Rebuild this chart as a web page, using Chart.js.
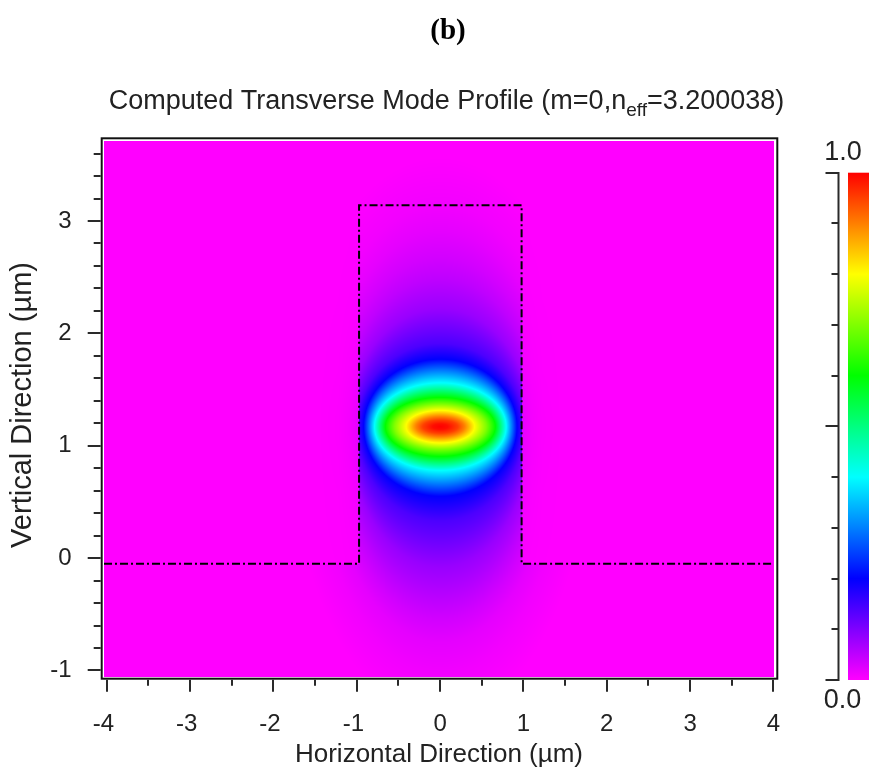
<!DOCTYPE html>
<html>
<head>
<meta charset="utf-8">
<title>Computed Transverse Mode Profile</title>
<style>
  html, body { margin: 0; padding: 0; background: #fff; }
  #wrap { position: relative; width: 869px; height: 774px; }
  canvas { display: block; }
</style>
<script src="https://cdn.jsdelivr.net/npm/chart.js@4.4.1/dist/chart.umd.min.js"></script>
</head>
<body>
<div id="wrap"><canvas id="mode" width="869" height="774"></canvas></div>
<script>
// ---- mode intensity, described by its contour levels ----
// For every level: half-width and half-heights (above / below the peak) of its contour, µm.
const modeCenter = [0.003, 1.17];
const levels   = [1, 0.99, 0.95, 0.9, 0.8, 0.7, 0.6, 0.4, 0.2, 0.14, 0.12, 0.08, 0.05, 0.035, 0.02, 0.01, 0];
const halfW    = [0, 0.09, 0.21, 0.29, 0.41, 0.55, 0.66, 0.79, 0.92, 1.0, 1.03, 1.1, 1.2, 1.28, 1.38, 1.5, 1.8];
const halfUp   = [0, 0.025, 0.06, 0.09, 0.145, 0.2, 0.26, 0.39, 0.6, 0.74, 0.84, 1.05, 1.32, 1.5, 1.74, 1.97, 2.4];
const halfDown = [0, 0.025, 0.06, 0.09, 0.145, 0.2, 0.265, 0.39, 0.62, 0.84, 0.98, 1.25, 1.56, 1.72, 1.92, 2.2, 2.6];
// Beside the ridge (in air) the intensity drops by this factor vs. distance from the wall, µm
const gapDist   = [0, 0.04, 0.12, 0.25, 0.5];
const gapFactor = [0.15, 0.1, 0.05, 0.015, 0];

// Ridge waveguide outline (µm)
const ridgeLeft = -0.972, ridgeRight = 0.978, ridgeTop = 3.14, slabTop = -0.05;
const outlineX = [-4.032, ridgeLeft, ridgeLeft, ridgeRight, ridgeRight, 4.006];
const outlineY = [slabTop, slabTop, ridgeTop, ridgeTop, slabTop, slabTop];

// Axis ranges and tick positions
const xRange = [-4.032, 4.006];
const yRange = [-1.058, 3.712];
const xTicks = [-4, -3.5, -3, -2.5, -2, -1.5, -1, -0.5, 0, 0.5, 1, 1.5, 2, 2.5, 3, 3.5, 4];
const yTicks = [-1, -0.8, -0.6, -0.4, -0.2, 0, 0.2, 0.4, 0.6, 0.8, 1, 1.2, 1.4, 1.6, 1.8, 2,
                2.2, 2.4, 2.6, 2.8, 3, 3.2, 3.4, 3.6];
const cbarTicks  = [0, 0.1, 0.2, 0.3, 0.4, 0.5, 0.6, 0.7, 0.8, 0.9, 1.0];
const cbarLabels = ['0.0', '1.0'];

const FONT = '"Liberation Sans", Arial, Helvetica, sans-serif';
const INK = '#222';

// Hue colour scale: 0 → magenta, 0.2 blue, 0.4 cyan, 0.6 green, 0.8 yellow, 1 → red
function cmap(v) {
  v = Math.max(0, Math.min(1, v));
  const h = (1 - v) * 5, i = Math.floor(h), f = h - i;
  let r, g, b;
  switch (i) {
    case 0: r = 1; g = f; b = 0; break;
    case 1: r = 1 - f; g = 1; b = 0; break;
    case 2: r = 0; g = 1; b = f; break;
    case 3: r = 0; g = 1 - f; b = 1; break;
    case 4: r = f; g = 0; b = 1; break;
    default: r = 1; g = 0; b = 1;
  }
  return [Math.round(r * 255), Math.round(g * 255), Math.round(b * 255)];
}

// contour half-axes for an arbitrary level c (linear between listed levels)
function axesAt(c) {
  let i = 0;
  while (i < levels.length - 2 && c < levels[i + 1]) i++;
  const t = (levels[i] - c) / (levels[i] - levels[i + 1]);
  return [halfW[i] + t * (halfW[i + 1] - halfW[i]),
          halfUp[i] + t * (halfUp[i + 1] - halfUp[i]),
          halfDown[i] + t * (halfDown[i + 1] - halfDown[i])];
}

// intensity at offset (dx, dy) from the peak: the level whose contour passes through the point
function levelAt(dx, dy) {
  if (dx === 0 && dy === 0) return 1;
  const within = c => {
    const [a, bu, bd] = axesAt(c);
    const b = dy >= 0 ? bu : bd;
    if (a <= 0 || b <= 0) return false;
    const u = dx / a, w = dy / b;
    return u * u + w * w <= 1;
  };
  if (!within(0)) return 0;
  let lo = 0, hi = 1;
  for (let k = 0; k < 20; k++) {
    const mid = (lo + hi) / 2;
    if (within(mid)) lo = mid; else hi = mid;
  }
  return lo;
}

function lerpTable(xs, ys, x) {
  if (x <= xs[0]) return ys[0];
  if (x >= xs[xs.length - 1]) return ys[ys.length - 1];
  let i = 0;
  while (x > xs[i + 1]) i++;
  return ys[i] + (x - xs[i]) / (xs[i + 1] - xs[i]) * (ys[i + 1] - ys[i]);
}

// Paints the intensity map into the plot area through the x/y scales
const fieldMap = {
  id: 'fieldMap',
  beforeDatasetsDraw(chart) {
    const { ctx, chartArea: a, scales: { x: sx, y: sy } } = chart;
    const w = Math.round(a.right - a.left), h = Math.round(a.bottom - a.top);
    const off = document.createElement('canvas');
    off.width = w; off.height = h;
    const octx = off.getContext('2d');
    const img = octx.createImageData(w, h);
    const xs = new Float64Array(w);
    for (let i = 0; i < w; i++) xs[i] = sx.getValueForPixel(a.left + i + 0.5);
    for (let j = 0; j < h; j++) {
      const yv = sy.getValueForPixel(a.top + j + 0.5);
      const dy = yv - modeCenter[1];
      const inAirBand = yv >= slabTop;
      const wallL = inAirBand ? levelAt(ridgeLeft - modeCenter[0], dy) : 0;
      const wallR = inAirBand ? levelAt(ridgeRight - modeCenter[0], dy) : 0;
      for (let i = 0; i < w; i++) {
        const xv = xs[i];
        let v;
        if (inAirBand && xv < ridgeLeft) v = wallL * lerpTable(gapDist, gapFactor, ridgeLeft - xv);
        else if (inAirBand && xv > ridgeRight) v = wallR * lerpTable(gapDist, gapFactor, xv - ridgeRight);
        else v = levelAt(xv - modeCenter[0], dy);
        const c = cmap(v), k = (j * w + i) * 4;
        img.data[k] = c[0]; img.data[k + 1] = c[1]; img.data[k + 2] = c[2]; img.data[k + 3] = 255;
      }
    }
    octx.putImageData(img, 0, 0);
    ctx.drawImage(off, a.left, a.top);
  }
};

// Frame, tick marks, titles and colour bar
const decorations = {
  id: 'decorations',
  afterDraw(chart) {
    const { ctx, chartArea: a, scales: { x: sx, y: sy } } = chart;
    ctx.save();
    // frame
    ctx.strokeStyle = '#111';
    ctx.lineWidth = 2;
    const fl = a.left - 2.3, ft = a.top - 2.7, fr = a.right + 3.3, fb = a.bottom + 1.7;
    ctx.strokeRect(fl, ft, fr - fl, fb - ft);
    // tick marks
    ctx.strokeStyle = '#2a2a2a';
    ctx.lineWidth = 2;
    ctx.beginPath();
    for (const v of xTicks) {
      const px = Math.round(sx.getPixelForValue(v));
      const len = Number.isInteger(v) ? 12 : 6;
      ctx.moveTo(px, fb + 1); ctx.lineTo(px, fb + 1 + len);
    }
    for (const v of yTicks) {
      const py = Math.round(sy.getPixelForValue(v));
      const len = Number.isInteger(Math.round(v * 1000) / 1000) ? 13 : 7;
      ctx.moveTo(fl - 1, py); ctx.lineTo(fl - 1 - len, py);
    }
    ctx.stroke();

    // panel letter
    ctx.fillStyle = '#000';
    ctx.font = 'bold 29px "Liberation Serif", "Times New Roman", serif';
    ctx.textAlign = 'center';
    ctx.textBaseline = 'alphabetic';
    ctx.fillText('(b)', 448, 39);

    // chart title with subscript
    const p1 = 'Computed Transverse Mode Profile (m=0,n', sub = 'eff', p2 = '=3.200038)';
    const mainFont = '27px ' + FONT, subFont = '19px ' + FONT;
    ctx.font = mainFont; const w1 = ctx.measureText(p1).width, w3 = ctx.measureText(p2).width;
    ctx.font = subFont; const w2 = ctx.measureText(sub).width;
    let tx = 446.5 - (w1 + w2 + w3) / 2;
    const base = 109;
    ctx.fillStyle = INK;
    ctx.textAlign = 'left';
    ctx.font = mainFont; ctx.fillText(p1, tx, base); tx += w1;
    ctx.font = subFont; ctx.fillText(sub, tx, base + 7); tx += w2;
    ctx.font = mainFont; ctx.fillText(p2, tx, base);

    // colour bar
    const cbL = 848, cbR = 869, cbT = 172.7, cbB = 680, axX = 838.5;
    const grad = ctx.createLinearGradient(0, cbB, 0, cbT);
    for (let i = 0; i <= 60; i++) {
      const c = cmap(i / 60);
      grad.addColorStop(i / 60, `rgb(${c[0]},${c[1]},${c[2]})`);
    }
    ctx.fillStyle = grad;
    ctx.fillRect(cbL, cbT, cbR - cbL, cbB - cbT);
    ctx.strokeStyle = '#2a2a2a';
    ctx.lineWidth = 2;
    ctx.beginPath();
    ctx.moveTo(axX, cbT); ctx.lineTo(axX, cbB);
    for (const v of cbarTicks) {
      const py = Math.round(cbB - v * (cbB - cbT));
      const major = Math.abs(v) < 1e-9 || Math.abs(v - 0.5) < 1e-9 || Math.abs(v - 1) < 1e-9;
      ctx.moveTo(axX + 1, py); ctx.lineTo(axX - (major ? 13 : 7), py);
    }
    ctx.stroke();
    ctx.fillStyle = INK;
    ctx.font = '27px ' + FONT;
    ctx.textAlign = 'center';
    ctx.textBaseline = 'middle';
    ctx.fillText(cbarLabels[1], 843, 153);
    ctx.fillText(cbarLabels[0], 842.5, 701);
    ctx.restore();
  }
};

new Chart(document.getElementById('mode'), {
  type: 'scatter',
  data: {
    datasets: [{
      label: 'ridge outline',
      data: outlineX.map((x, i) => ({ x, y: outlineY[i] })),
      showLine: true,
      borderColor: '#000',
      borderWidth: 2,
      borderDash: [8, 3, 2, 3],
      pointRadius: 0,
      fill: false,
      tension: 0
    }]
  },
  options: {
    responsive: false,
    animation: false,
    events: [],
    layout: { padding: { top: 141, right: 95, left: 0, bottom: 0 } },
    plugins: { legend: { display: false }, tooltip: { enabled: false }, title: { display: false } },
    scales: {
      x: {
        type: 'linear', min: xRange[0], max: xRange[1], bounds: 'data',
        afterBuildTicks(s) { s.ticks = xTicks.map(v => ({ value: v })); },
        afterFit(s) { s.height = 97; },
        grid: { display: false }, border: { display: false },
        ticks: {
          autoSkip: false, maxRotation: 0, minRotation: 0, padding: 25, color: INK,
          font: { family: FONT, size: 24 },
          callback: v => Number.isInteger(v) ? (v < 0 ? String(v) + ' ' : String(v)) : ''
        },
        title: { display: true, text: 'Horizontal Direction (µm)', color: INK,
                 font: { family: FONT, size: 26 }, padding: { top: 0, bottom: 4 } }
      },
      y: {
        type: 'linear', min: yRange[0], max: yRange[1], bounds: 'data',
        afterBuildTicks(s) { s.ticks = yTicks.map(v => ({ value: v })); },
        afterFit(s) { s.width = 104; },
        grid: { display: false }, border: { display: false },
        ticks: {
          autoSkip: false, padding: 24.5, color: INK,
          font: { family: FONT, size: 24 },
          callback: v => Number.isInteger(v) ? String(v) : ''
        },
        title: { display: true, text: ' Vertical Direction (µm)', color: INK,
                 font: { family: FONT, size: 29 }, padding: { top: 6, bottom: 0 } }
      }
    }
  },
  plugins: [fieldMap, decorations]
});
</script>
</body>
</html>
